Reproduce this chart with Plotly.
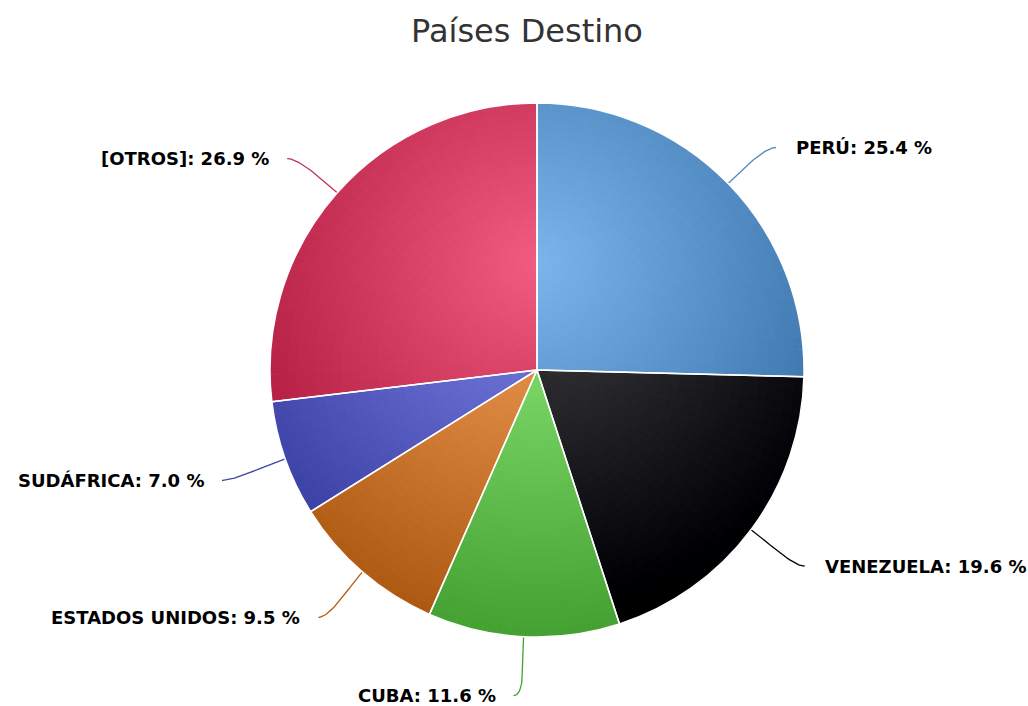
import numpy as np
import plotly.graph_objects as go

# Destination countries and their share (%)
paises = ["PERÚ", "VENEZUELA", "CUBA", "ESTADOS UNIDOS", "SUDÁFRICA", "[OTROS]"]
porcentajes = [25.4, 19.6, 11.6, 9.5, 7.0, 26.9]
colores = ["#7cb5ec", "#434348", "#90ed7d", "#f7a35c", "#8085e9", "#f15c80"]
titulo = "Países Destino"

W, H = 1028, 706
CX, CY, R = 537, 370, 267          # pie centre / radius in pixels

# radial gradient: centre at 30% of the pie height, radius 70% of its diameter
GX, GY = CX, CY - R + 0.3 * 2 * R
GR = 0.7 * 2 * R


def hex_rgb(h):
    return np.array([int(h[i:i + 2], 16) for i in (1, 3, 5)], float)


def shade(base, x, y):
    t = min(np.hypot(x - GX, y - GY) / GR, 1.0)
    c = np.clip(hex_rgb(base) - 76 * t, 0, 255)
    return "rgb(%d,%d,%d)" % tuple(np.round(c))


def domain(rho):
    return dict(x=[(CX - rho) / W, (CX + rho) / W],
                y=[1 - (CY + rho) / H, 1 - (CY - rho) / H])


total = float(sum(porcentajes))
fr = np.array(porcentajes) / total
starts = np.concatenate([[0], np.cumsum(fr)[:-1]])
mids = starts + fr / 2

fig = go.Figure()

# solid base under the shaded layers
base_cols = [shade(c, CX + 0.6 * R * np.sin(2 * np.pi * m), CY - 0.6 * R * np.cos(2 * np.pi * m))
             for c, m in zip(colores, mids)]
fig.add_trace(go.Pie(values=porcentajes, sort=False, direction="clockwise", rotation=0,
                     textinfo="none", hoverinfo="skip", showlegend=False,
                     marker=dict(colors=base_cols, line=dict(width=0)), domain=domain(R)))

# each slice split into thin wedges so the fill can be shaded
STEP = 3.0
sub_vals, sub_mid, sub_col = [], [], []
for v, f, s, c in zip(porcentajes, fr, starts, colores):
    n = max(1, int(np.ceil(f * 360 / STEP)))
    for k in range(n):
        sub_vals.append(v / n)
        sub_mid.append(s + f * (k + 0.5) / n)
        sub_col.append(c)
sub_mid = np.array(sub_mid)

N = 30
for k in range(N):
    rho = R * (1 - k / N)
    rs = R * (1 - (k + 0.5) / N)
    cols = [shade(c, CX + rs * np.sin(2 * np.pi * m), CY - rs * np.cos(2 * np.pi * m))
            for c, m in zip(sub_col, sub_mid)]
    fig.add_trace(go.Pie(values=sub_vals, sort=False, direction="clockwise", rotation=0,
                         textinfo="none", hoverinfo="skip", showlegend=False,
                         marker=dict(colors=cols, line=dict(width=0)), domain=domain(rho)))

# white slice borders on top
fig.add_trace(go.Pie(labels=paises, values=porcentajes, sort=False, direction="clockwise",
                     rotation=0, textinfo="none", showlegend=False,
                     hovertemplate="%{label}: %{value:.1f} %<extra></extra>",
                     marker=dict(colors=["rgba(0,0,0,0)"] * len(paises),
                                 line=dict(color="white", width=1.5)),
                     domain=domain(R)))

# connectors and data labels
annotations = []
for pais, v, m, c in zip(paises, porcentajes, mids, colores):
    a = 2 * np.pi * m
    sn, cs = np.sin(a), np.cos(a)
    side = 1 if sn > 0 else -1
    p0 = np.array([CX + R * sn, CY - R * cs])
    p1 = np.array([CX + (R + 22) * sn, CY - (R + 22) * cs])
    x_end = CX + 334 * sn
    x_end = max(x_end, p0[0] + 10) if side > 0 else min(x_end, p0[0] - 10)
    y_end = CY - 323 * cs + 3
    p3 = np.array([x_end, y_end])
    p2 = np.array([x_end - side * 12, y_end])
    t = np.linspace(0, 1, 40)[:, None]
    pts = ((1 - t) ** 3) * p0 + 3 * ((1 - t) ** 2) * t * p1 + 3 * (1 - t) * t ** 2 * p2 + t ** 3 * p3
    fig.add_trace(go.Scatter(x=pts[:, 0], y=pts[:, 1], mode="lines", hoverinfo="skip",
                             showlegend=False, line=dict(color=shade(c, *p0), width=1.3)))
    annotations.append(dict(
        x=x_end + (18 if side > 0 else -16), y=y_end, xref="x", yref="y",
        text="<b>%s: %.1f %%</b>" % (pais, v), showarrow=False,
        xanchor="left" if side > 0 else "right", yanchor="middle",
        font=dict(family="DejaVu Sans", size=18, color="#000000")))

fig.update_layout(
    width=W, height=H, autosize=False,
    margin=dict(l=0, r=0, t=0, b=0),
    paper_bgcolor="white", plot_bgcolor="white",
    xaxis=dict(range=[0, W], visible=False, fixedrange=True, domain=[0, 1]),
    yaxis=dict(range=[H, 0], visible=False, fixedrange=True, domain=[0, 1]),
    title=dict(text=titulo, x=527 / W, y=1 - 31 / H, xanchor="center", yanchor="middle",
               xref="paper", yref="paper",
               font=dict(family="DejaVu Sans", size=32, color="#333333")),
    annotations=annotations,
    showlegend=False,
)

fig.write_html("out.html")
